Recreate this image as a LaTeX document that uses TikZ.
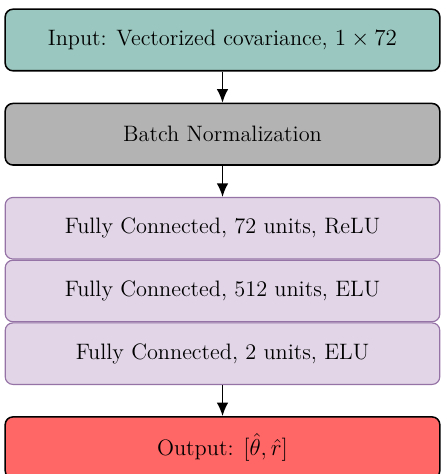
\documentclass[tikz,border=0pt]{standalone}
\usepackage{amsmath, amssymb}
\usepackage{xcolor}
\usepackage{tikz}
\usetikzlibrary{positioning, arrows.meta}

\definecolor{inputcol}{HTML}{9AC7BF}
\definecolor{normcol}{HTML}{B3B3B3}
\definecolor{fccol}{HTML}{E1D5E7}
\definecolor{fcline}{HTML}{9673A6}
\definecolor{outcol}{HTML}{FF6666}

\begin{document}
\begin{tikzpicture}[
        x=0.52pt, y=-0.52pt,
        node distance=16.2pt,
        font=\fontsize{11.6pt}{14pt}\selectfont,
        block/.style={
            rectangle,
            draw,
            line width=0.8pt,
            rounded corners=4pt,
            minimum width=226pt,
            minimum height=32pt,
            align=center
        },
        fc/.style={
            block,
            draw=fcline,
            line width=0.6pt,
            fill=fccol
        },
        arrow/.style={
            -{Latex[length=7pt, width=6pt]},
            line width=0.9pt
        }
    ]
        \useasboundingbox (0,0) rectangle (441,474);
        % Layers
        \node[block, fill=inputcol] (input) at (222.5,40) {Input: Vectorized covariance, $1 \times 72$};
        \node[block, fill=normcol, below=of input] (batchnorm) {Batch Normalization};
        \node[fc, below=of batchnorm] (fc_one) {Fully Connected, 72 units, ReLU};
        \node[fc, below=0pt of fc_one] (fc_two) {Fully Connected, 512 units, ELU};
        \node[fc, below=0pt of fc_two] (fc_three) {Fully Connected, 2 units, ELU};
        \node[block, fill=outcol, below=of fc_three] (output) {Output: $[\hat{\theta}, \hat{r}]$};
        
        % Connections
        \draw[arrow] (input) -- (batchnorm);
        \draw[arrow] (batchnorm) -- (fc_one);
        \draw[arrow] (fc_three) -- (output);
    \end{tikzpicture}
\end{document}
